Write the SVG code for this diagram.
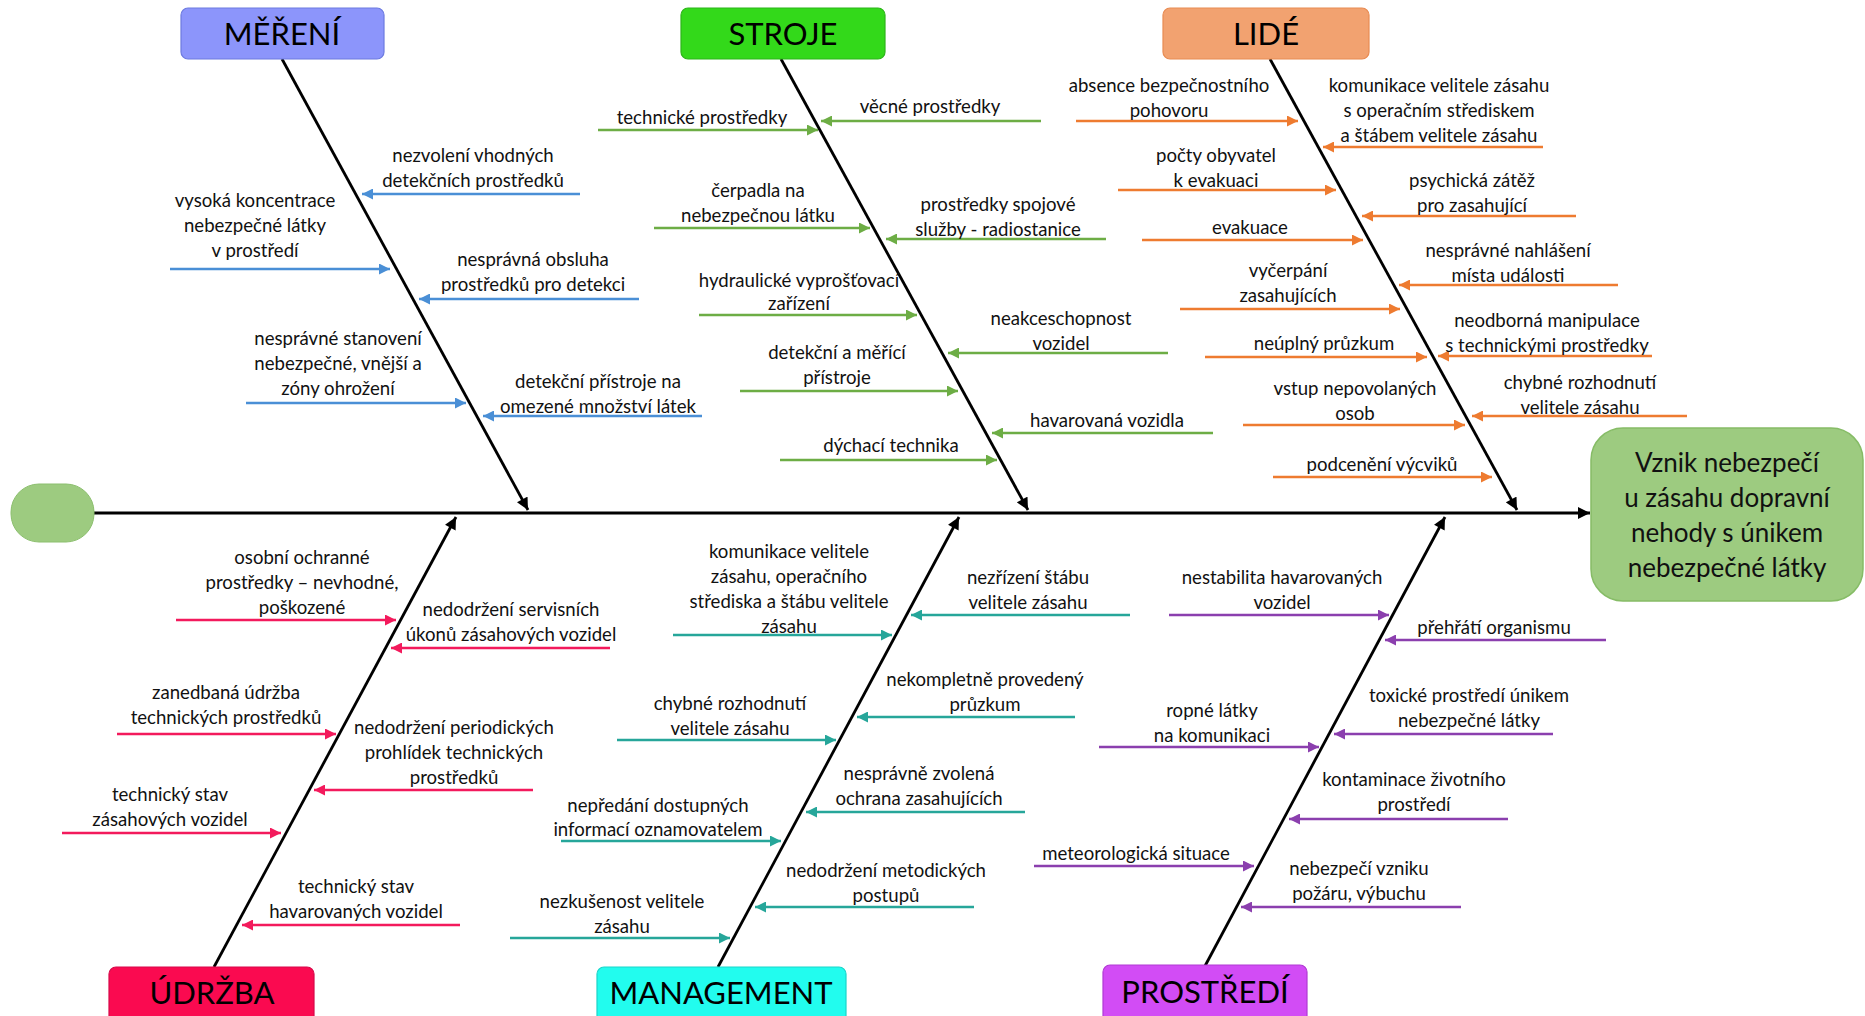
<svg xmlns="http://www.w3.org/2000/svg" width="1865" height="1016" viewBox="0 0 1865 1016">
<style>
.t{font-family:Lato,"Liberation Sans",sans-serif;font-size:18.6px;fill:#111;text-anchor:middle}
.cat{font-family:Lato,"Liberation Sans",sans-serif;font-size:31px;fill:#000;text-anchor:middle}
.eff{font-family:Lato,"Liberation Sans",sans-serif;font-size:26px;fill:#111;text-anchor:middle}
.spine{stroke:#000;stroke-width:2.8;fill:none}
.b{stroke:#4A8FD6;stroke-width:2.6}
.g{stroke:#6DAD45;stroke-width:2.6}
.o{stroke:#EE7B30;stroke-width:2.6}
.r{stroke:#F31A5C;stroke-width:2.6}
.c{stroke:#26A69A;stroke-width:2.6}
.p{stroke:#8B3FAE;stroke-width:2.6}
</style>
<defs>
<marker id="ak" viewBox="0 0 10 10" refX="10" refY="5" markerWidth="13" markerHeight="12" markerUnits="userSpaceOnUse" orient="auto"><path d="M0,0 L10,5 L0,10 z" fill="#000"/></marker>
<marker id="ab" viewBox="0 0 10 10" refX="10" refY="5" markerWidth="12" markerHeight="11" markerUnits="userSpaceOnUse" orient="auto"><path d="M0,0 L10,5 L0,10 z" fill="#4A8FD6"/></marker>
<marker id="ag" viewBox="0 0 10 10" refX="10" refY="5" markerWidth="12" markerHeight="11" markerUnits="userSpaceOnUse" orient="auto"><path d="M0,0 L10,5 L0,10 z" fill="#6DAD45"/></marker>
<marker id="ao" viewBox="0 0 10 10" refX="10" refY="5" markerWidth="12" markerHeight="11" markerUnits="userSpaceOnUse" orient="auto"><path d="M0,0 L10,5 L0,10 z" fill="#EE7B30"/></marker>
<marker id="ar" viewBox="0 0 10 10" refX="10" refY="5" markerWidth="12" markerHeight="11" markerUnits="userSpaceOnUse" orient="auto"><path d="M0,0 L10,5 L0,10 z" fill="#F31A5C"/></marker>
<marker id="ac" viewBox="0 0 10 10" refX="10" refY="5" markerWidth="12" markerHeight="11" markerUnits="userSpaceOnUse" orient="auto"><path d="M0,0 L10,5 L0,10 z" fill="#26A69A"/></marker>
<marker id="ap" viewBox="0 0 10 10" refX="10" refY="5" markerWidth="12" markerHeight="11" markerUnits="userSpaceOnUse" orient="auto"><path d="M0,0 L10,5 L0,10 z" fill="#8B3FAE"/></marker>
</defs>
<rect width="1865" height="1016" fill="#fff"/>

<g id="connectors">
<line class="spine" x1="94" y1="513" x2="1590" y2="513" marker-end="url(#ak)"/>
<line class="spine" x1="282" y1="59" x2="528" y2="510" marker-end="url(#ak)"/>
<line class="spine" x1="781" y1="59" x2="1028" y2="510" marker-end="url(#ak)"/>
<line class="spine" x1="1270" y1="59" x2="1517" y2="510" marker-end="url(#ak)"/>
<line class="spine" x1="214" y1="967" x2="456" y2="517" marker-end="url(#ak)"/>
<line class="spine" x1="718" y1="967" x2="959" y2="517" marker-end="url(#ak)"/>
<line class="spine" x1="1205" y1="966" x2="1445" y2="517" marker-end="url(#ak)"/>

<line class="b" x1="580" y1="194" x2="362" y2="194" marker-end="url(#ab)"/>
<line class="b" x1="170" y1="269" x2="390" y2="269" marker-end="url(#ab)"/>
<line class="b" x1="639" y1="299" x2="419" y2="299" marker-end="url(#ab)"/>
<line class="b" x1="246" y1="403" x2="466" y2="403" marker-end="url(#ab)"/>
<line class="b" x1="702" y1="416" x2="483" y2="416" marker-end="url(#ab)"/>

<line class="g" x1="598" y1="130" x2="818" y2="130" marker-end="url(#ag)"/>
<line class="g" x1="1041" y1="121" x2="821" y2="121" marker-end="url(#ag)"/>
<line class="g" x1="654" y1="228" x2="870" y2="228" marker-end="url(#ag)"/>
<line class="g" x1="1106" y1="239" x2="886" y2="239" marker-end="url(#ag)"/>
<line class="g" x1="699" y1="315" x2="917" y2="315" marker-end="url(#ag)"/>
<line class="g" x1="1168" y1="353" x2="948" y2="353" marker-end="url(#ag)"/>
<line class="g" x1="740" y1="391" x2="958" y2="391" marker-end="url(#ag)"/>
<line class="g" x1="1213" y1="433" x2="992" y2="433" marker-end="url(#ag)"/>
<line class="g" x1="780" y1="460" x2="997" y2="460" marker-end="url(#ag)"/>

<line class="o" x1="1076" y1="121" x2="1298" y2="121" marker-end="url(#ao)"/>
<line class="o" x1="1543" y1="147" x2="1323" y2="147" marker-end="url(#ao)"/>
<line class="o" x1="1118" y1="190" x2="1336" y2="190" marker-end="url(#ao)"/>
<line class="o" x1="1576" y1="216" x2="1362" y2="216" marker-end="url(#ao)"/>
<line class="o" x1="1142" y1="240" x2="1363" y2="240" marker-end="url(#ao)"/>
<line class="o" x1="1618" y1="285" x2="1399" y2="285" marker-end="url(#ao)"/>
<line class="o" x1="1180" y1="309" x2="1400" y2="309" marker-end="url(#ao)"/>
<line class="o" x1="1652" y1="356" x2="1438" y2="356" marker-end="url(#ao)"/>
<line class="o" x1="1205" y1="357" x2="1427" y2="357" marker-end="url(#ao)"/>
<line class="o" x1="1243" y1="425" x2="1465" y2="425" marker-end="url(#ao)"/>
<line class="o" x1="1687" y1="416" x2="1472" y2="416" marker-end="url(#ao)"/>
<line class="o" x1="1273" y1="477" x2="1492" y2="477" marker-end="url(#ao)"/>

<line class="r" x1="176" y1="620" x2="396" y2="620" marker-end="url(#ar)"/>
<line class="r" x1="610" y1="648" x2="391" y2="648" marker-end="url(#ar)"/>
<line class="r" x1="117" y1="734" x2="336" y2="734" marker-end="url(#ar)"/>
<line class="r" x1="533" y1="790" x2="314" y2="790" marker-end="url(#ar)"/>
<line class="r" x1="62" y1="833" x2="281" y2="833" marker-end="url(#ar)"/>
<line class="r" x1="460" y1="925" x2="242" y2="925" marker-end="url(#ar)"/>

<line class="c" x1="673" y1="635" x2="892" y2="635" marker-end="url(#ac)"/>
<line class="c" x1="1130" y1="615" x2="911" y2="615" marker-end="url(#ac)"/>
<line class="c" x1="1075" y1="717" x2="857" y2="717" marker-end="url(#ac)"/>
<line class="c" x1="617" y1="740" x2="836" y2="740" marker-end="url(#ac)"/>
<line class="c" x1="1025" y1="812" x2="806" y2="812" marker-end="url(#ac)"/>
<line class="c" x1="561" y1="841" x2="781" y2="841" marker-end="url(#ac)"/>
<line class="c" x1="974" y1="907" x2="755" y2="907" marker-end="url(#ac)"/>
<line class="c" x1="510" y1="938" x2="730" y2="938" marker-end="url(#ac)"/>

<line class="p" x1="1169" y1="615" x2="1389" y2="615" marker-end="url(#ap)"/>
<line class="p" x1="1606" y1="640" x2="1385" y2="640" marker-end="url(#ap)"/>
<line class="p" x1="1553" y1="734" x2="1334" y2="734" marker-end="url(#ap)"/>
<line class="p" x1="1099" y1="747" x2="1319" y2="747" marker-end="url(#ap)"/>
<line class="p" x1="1508" y1="819" x2="1289" y2="819" marker-end="url(#ap)"/>
<line class="p" x1="1034" y1="866" x2="1254" y2="866" marker-end="url(#ap)"/>
<line class="p" x1="1461" y1="907" x2="1241" y2="907" marker-end="url(#ap)"/>
</g>

<g id="start-node"><rect x="11" y="484" width="83" height="58" rx="28" fill="#9DCB80" stroke="#8CBF6E" stroke-width="1"/></g>
<g id="effect"><rect x="1591" y="428" width="272" height="173" rx="32" fill="#9DCB80" stroke="#86BC66" stroke-width="1.5"/>
<text class="eff" x="1727" y="472"><tspan x="1727">Vznik nebezpečí</tspan><tspan x="1727" dy="35">u zásahu dopravní</tspan><tspan x="1727" dy="35">nehody s únikem</tspan><tspan x="1727" dy="35">nebezpečné látky</tspan></text></g>

<g id="cat-mereni"><rect x="181" y="8" width="203" height="51" rx="7" fill="#8C95FB" stroke="#6D7BE0" stroke-width="1.2"/><text class="cat" x="282" y="45">MĚŘENÍ</text></g>
<g id="cat-stroje"><rect x="681" y="8" width="204" height="51" rx="7" fill="#33D91A" stroke="#2DB51A" stroke-width="1.2"/><text class="cat" x="783" y="45">STROJE</text></g>
<g id="cat-lide"><rect x="1163" y="8" width="206" height="51" rx="7" fill="#F2A270" stroke="#E88B52" stroke-width="1.2"/><text class="cat" x="1266" y="45">LIDÉ</text></g>
<g id="cat-udrzba"><rect x="109" y="967" width="205" height="60" rx="7" fill="#FA0A50" stroke="#D8094A" stroke-width="1.2"/><text class="cat" x="212" y="1004">ÚDRŽBA</text></g>
<g id="cat-management"><rect x="597" y="967" width="249" height="60" rx="7" fill="#22FCEE" stroke="#1BD5CA" stroke-width="1.2"/><text class="cat" x="721" y="1004">MANAGEMENT</text></g>
<g id="cat-prostredi"><rect x="1103" y="965" width="204" height="60" rx="7" fill="#D24CF5" stroke="#B03BD3" stroke-width="1.2"/><text class="cat" x="1205" y="1003">PROSTŘEDÍ</text></g>

<g id="m1"><text class="t" x="473" y="162"><tspan x="473">nezvolení vhodných</tspan><tspan x="473" dy="25">detekčních prostředků</tspan></text></g>
<g id="m2"><text class="t" x="255" y="207"><tspan x="255">vysoká koncentrace</tspan><tspan x="255" dy="25">nebezpečné látky</tspan><tspan x="255" dy="25">v prostředí</tspan></text></g>
<g id="m3"><text class="t" x="533" y="266"><tspan x="533">nesprávná obsluha</tspan><tspan x="533" dy="25">prostředků pro detekci</tspan></text></g>
<g id="m4"><text class="t" x="338" y="345"><tspan x="338">nesprávné stanovení</tspan><tspan x="338" dy="25">nebezpečné, vnější a</tspan><tspan x="338" dy="25">zóny ohrožení</tspan></text></g>
<g id="m5"><text class="t" x="598" y="388"><tspan x="598">detekční přístroje na</tspan><tspan x="598" dy="25">omezené množství látek</tspan></text></g>

<g id="s1"><text class="t" x="702" y="124">technické prostředky</text></g>
<g id="s2"><text class="t" x="930" y="113">věcné prostředky</text></g>
<g id="s3"><text class="t" x="758" y="197"><tspan x="758">čerpadla na</tspan><tspan x="758" dy="25">nebezpečnou látku</tspan></text></g>
<g id="s4"><text class="t" x="998" y="211"><tspan x="998">prostředky spojové</tspan><tspan x="998" dy="25">služby - radiostanice</tspan></text></g>
<g id="s5"><text class="t" x="799" y="287"><tspan x="799">hydraulické vyprošťovací</tspan><tspan x="799" dy="23">zařízení</tspan></text></g>
<g id="s6"><text class="t" x="1061" y="325"><tspan x="1061">neakceschopnost</tspan><tspan x="1061" dy="25">vozidel</tspan></text></g>
<g id="s7"><text class="t" x="837" y="359"><tspan x="837">detekční a měřící</tspan><tspan x="837" dy="25">přístroje</tspan></text></g>
<g id="s8"><text class="t" x="1107" y="427">havarovaná vozidla</text></g>
<g id="s9"><text class="t" x="891" y="452">dýchací technika</text></g>

<g id="l1"><text class="t" x="1169" y="92"><tspan x="1169">absence bezpečnostního</tspan><tspan x="1169" dy="25">pohovoru</tspan></text></g>
<g id="l2"><text class="t" x="1439" y="92"><tspan x="1439">komunikace velitele zásahu</tspan><tspan x="1439" dy="25">s operačním střediskem</tspan><tspan x="1439" dy="25">a štábem velitele zásahu</tspan></text></g>
<g id="l3"><text class="t" x="1216" y="162"><tspan x="1216">počty obyvatel</tspan><tspan x="1216" dy="25">k evakuaci</tspan></text></g>
<g id="l4"><text class="t" x="1472" y="187"><tspan x="1472">psychická zátěž</tspan><tspan x="1472" dy="25">pro zasahující</tspan></text></g>
<g id="l5"><text class="t" x="1250" y="234">evakuace</text></g>
<g id="l6"><text class="t" x="1508" y="257"><tspan x="1508">nesprávné nahlášení</tspan><tspan x="1508" dy="25">místa události</tspan></text></g>
<g id="l7"><text class="t" x="1288" y="277"><tspan x="1288">vyčerpání</tspan><tspan x="1288" dy="25">zasahujících</tspan></text></g>
<g id="l8"><text class="t" x="1547" y="327"><tspan x="1547">neodborná manipulace</tspan><tspan x="1547" dy="25">s technickými prostředky</tspan></text></g>
<g id="l9"><text class="t" x="1324" y="350">neúplný průzkum</text></g>
<g id="l10"><text class="t" x="1355" y="395"><tspan x="1355">vstup nepovolaných</tspan><tspan x="1355" dy="25">osob</tspan></text></g>
<g id="l11"><text class="t" x="1580" y="389"><tspan x="1580">chybné rozhodnutí</tspan><tspan x="1580" dy="25">velitele zásahu</tspan></text></g>
<g id="l12"><text class="t" x="1382" y="471">podcenění výcviků</text></g>

<g id="u1"><text class="t" x="302" y="564"><tspan x="302">osobní ochranné</tspan><tspan x="302" dy="25">prostředky – nevhodné,</tspan><tspan x="302" dy="25">poškozené</tspan></text></g>
<g id="u2"><text class="t" x="511" y="616"><tspan x="511">nedodržení servisních</tspan><tspan x="511" dy="25">úkonů zásahových vozidel</tspan></text></g>
<g id="u3"><text class="t" x="226" y="699"><tspan x="226">zanedbaná údržba</tspan><tspan x="226" dy="25">technických prostředků</tspan></text></g>
<g id="u4"><text class="t" x="454" y="734"><tspan x="454">nedodržení periodických</tspan><tspan x="454" dy="25">prohlídek technických</tspan><tspan x="454" dy="25">prostředků</tspan></text></g>
<g id="u5"><text class="t" x="170" y="801"><tspan x="170">technický stav</tspan><tspan x="170" dy="25">zásahových vozidel</tspan></text></g>
<g id="u6"><text class="t" x="356" y="893"><tspan x="356">technický stav</tspan><tspan x="356" dy="25">havarovaných vozidel</tspan></text></g>

<g id="g1"><text class="t" x="789" y="558"><tspan x="789">komunikace velitele</tspan><tspan x="789" dy="25">zásahu, operačního</tspan><tspan x="789" dy="25">střediska a štábu velitele</tspan><tspan x="789" dy="25">zásahu</tspan></text></g>
<g id="g2"><text class="t" x="1028" y="584"><tspan x="1028">nezřízení štábu</tspan><tspan x="1028" dy="25">velitele zásahu</tspan></text></g>
<g id="g3"><text class="t" x="985" y="686"><tspan x="985">nekompletně provedený</tspan><tspan x="985" dy="25">průzkum</tspan></text></g>
<g id="g4"><text class="t" x="730" y="710"><tspan x="730">chybné rozhodnutí</tspan><tspan x="730" dy="25">velitele zásahu</tspan></text></g>
<g id="g5"><text class="t" x="919" y="780"><tspan x="919">nesprávně zvolená</tspan><tspan x="919" dy="25">ochrana zasahujících</tspan></text></g>
<g id="g6"><text class="t" x="658" y="812"><tspan x="658">nepředání dostupných</tspan><tspan x="658" dy="24">informací oznamovatelem</tspan></text></g>
<g id="g7"><text class="t" x="886" y="877"><tspan x="886">nedodržení metodických</tspan><tspan x="886" dy="25">postupů</tspan></text></g>
<g id="g8"><text class="t" x="622" y="908"><tspan x="622">nezkušenost velitele</tspan><tspan x="622" dy="25">zásahu</tspan></text></g>

<g id="p1"><text class="t" x="1282" y="584"><tspan x="1282">nestabilita havarovaných</tspan><tspan x="1282" dy="25">vozidel</tspan></text></g>
<g id="p2"><text class="t" x="1494" y="634">přehřátí organismu</text></g>
<g id="p3"><text class="t" x="1469" y="702"><tspan x="1469">toxické prostředí únikem</tspan><tspan x="1469" dy="25">nebezpečné látky</tspan></text></g>
<g id="p4"><text class="t" x="1212" y="717"><tspan x="1212">ropné látky</tspan><tspan x="1212" dy="25">na komunikaci</tspan></text></g>
<g id="p5"><text class="t" x="1414" y="786"><tspan x="1414">kontaminace životního</tspan><tspan x="1414" dy="25">prostředí</tspan></text></g>
<g id="p6"><text class="t" x="1136" y="860">meteorologická situace</text></g>
<g id="p7"><text class="t" x="1359" y="875"><tspan x="1359">nebezpečí vzniku</tspan><tspan x="1359" dy="25">požáru, výbuchu</tspan></text></g>
</svg>
